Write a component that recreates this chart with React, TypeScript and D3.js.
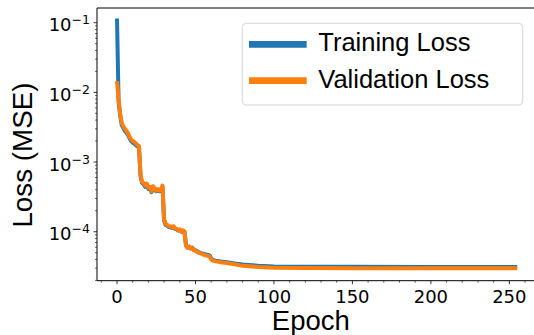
import { useEffect, useRef } from "react"
import * as d3 from "d3"

// epochs (dense where the curve moves, sparse on the plateau)
const epochs = [
  0, 1, 2, 3, 4, 5, 6, 7, 8, 9, 10, 11, 12, 13, 14, 15, 16, 17, 18, 19, 20, 21, 22, 23, 24, 25, 26, 27, 28, 29,
  30, 31, 32, 33, 34, 35, 36, 37, 38, 39, 40, 41, 42, 43, 44, 45, 46, 47, 48, 49, 50, 52, 54, 56, 58, 59, 60, 61,
  63, 66, 70, 75, 80, 90, 100, 120, 150, 200, 255,
]

const trainLoss = [
  1.15e-1, 7.4e-3, 4.7e-3, 3.4e-3, 3.1e-3, 2.8e-3, 2.65e-3, 2.45e-3, 2.2e-3, 2.0e-3, 1.9e-3, 1.85e-3, 1.75e-3, 1.68e-3,
  1.62e-3, 6.2e-4, 5.0e-4, 4.8e-4, 4.4e-4, 4.7e-4, 4.1e-4, 4.2e-4, 3.7e-4, 4.3e-4, 4.0e-4, 3.8e-4, 3.9e-4, 3.8e-4,
  3.9e-4, 4.4e-4, 1.45e-4, 1.25e-4, 1.22e-4, 1.17e-4, 1.17e-4, 1.13e-4, 1.16e-4, 1.1e-4, 1.08e-4, 1.04e-4, 1.06e-4,
  1.0e-4, 1.03e-4, 1.0e-4, 6.3e-5, 5.9e-5, 6.1e-5, 5.8e-5, 5.9e-5, 5.5e-5, 5.4e-5, 5.1e-5, 4.9e-5, 4.75e-5, 4.65e-5,
  4.55e-5, 4.15e-5, 3.95e-5, 3.85e-5, 3.75e-5, 3.65e-5, 3.5e-5, 3.38e-5, 3.25e-5, 3.18e-5, 3.15e-5, 3.13e-5, 3.12e-5,
  3.12e-5,
]

const valLoss = [
  1.45e-2, 7.9e-3, 5.0e-3, 3.6e-3, 3.3e-3, 3.0e-3, 2.8e-3, 2.6e-3, 2.3e-3, 2.1e-3, 2.0e-3, 1.95e-3, 1.85e-3, 1.75e-3,
  1.7e-3, 6.5e-4, 5.2e-4, 5.0e-4, 4.6e-4, 4.9e-4, 4.3e-4, 4.4e-4, 3.8e-4, 4.5e-4, 4.2e-4, 3.9e-4, 4.1e-4, 3.9e-4,
  4.0e-4, 4.6e-4, 1.5e-4, 1.3e-4, 1.25e-4, 1.2e-4, 1.2e-4, 1.15e-4, 1.2e-4, 1.12e-4, 1.1e-4, 1.05e-4, 1.08e-4,
  1.0e-4, 1.05e-4, 1.0e-4, 6.3e-5, 5.9e-5, 6.1e-5, 5.7e-5, 5.9e-5, 5.4e-5, 5.3e-5, 5.0e-5, 4.8e-5, 4.6e-5, 4.5e-5,
  4.4e-5, 4.0e-5, 3.85e-5, 3.75e-5, 3.65e-5, 3.55e-5, 3.4e-5, 3.25e-5, 3.12e-5, 3.05e-5, 3.02e-5, 3.0e-5, 3.0e-5,
  3.0e-5,
]

const xTicks = [0, 50, 100, 150, 200, 250]
const yTickExps = [-1, -2, -3, -4]
const seriesNames = ["Training Loss", "Validation Loss"]
const seriesColors = ["#1f77b4", "#ff7f0e"]

export default function App() {
  const svgRef = useRef<SVGSVGElement | null>(null)

  useEffect(() => {
    if (!svgRef.current) return
    const svg = d3.select(svgRef.current)
    svg.selectAll("*").remove()

    // axes box (right spine falls just outside the picture)
    const left = 97
    const top = 8
    const bottom = 280.7
    const right = 537.2

    const x = d3.scaleLinear().domain([-12.75, 267.75]).range([left, right])
    const y = d3.scaleLog().domain([Math.pow(10, -4.703), Math.pow(10, -0.789)]).range([bottom, top])

    const tickFont = "DejaVu Sans, sans-serif"
    const labelFont = "Liberation Sans, Arial, sans-serif"

    // lines
    const line = d3
      .line<number>()
      .x((d, i) => x(epochs[i]))
      .y((d) => y(d))

    ;[trainLoss, valLoss].forEach((vals, k) => {
      svg
        .append("path")
        .datum(vals)
        .attr("d", line)
        .attr("fill", "none")
        .attr("stroke", seriesColors[k])
        .attr("stroke-width", 4)
        .attr("stroke-linejoin", "round")
    })

    // spines
    const spines = svg.append("g").attr("stroke", "#000").attr("stroke-width", 1)
    spines.append("line").attr("x1", left).attr("x2", left).attr("y1", top).attr("y2", bottom)
    spines.append("line").attr("x1", left).attr("x2", right).attr("y1", bottom).attr("y2", bottom)
    spines.append("line").attr("x1", left).attr("x2", right).attr("y1", top).attr("y2", top)

    // x ticks
    const xMinor = d3.range(-10, 261, 10).filter((v) => v % 50 !== 0)
    svg
      .append("g")
      .selectAll("line")
      .data(xMinor)
      .enter()
      .append("line")
      .attr("x1", (d) => x(d))
      .attr("x2", (d) => x(d))
      .attr("y1", bottom)
      .attr("y2", bottom + 2)
      .attr("stroke", "#000")
      .attr("stroke-width", 0.6)
    svg
      .append("g")
      .selectAll("line")
      .data(xTicks)
      .enter()
      .append("line")
      .attr("x1", (d) => x(d))
      .attr("x2", (d) => x(d))
      .attr("y1", bottom)
      .attr("y2", bottom + 3.5)
      .attr("stroke", "#000")
      .attr("stroke-width", 0.8)
    svg
      .append("g")
      .selectAll("text")
      .data(xTicks)
      .enter()
      .append("text")
      .attr("x", (d) => x(d))
      .attr("y", 303)
      .attr("text-anchor", "middle")
      .attr("font-family", tickFont)
      .attr("font-size", 18)
      .attr("fill", "#000")
      .text((d) => d)

    // y ticks (log)
    const yMinor: number[] = []
    for (let e = -5; e <= -1; e++) {
      for (let m = 2; m <= 9; m++) {
        const v = m * Math.pow(10, e)
        if (y(v) >= top && y(v) <= bottom) yMinor.push(v)
      }
    }
    svg
      .append("g")
      .selectAll("line")
      .data(yMinor)
      .enter()
      .append("line")
      .attr("x1", left)
      .attr("x2", left - 2)
      .attr("y1", (d) => y(d))
      .attr("y2", (d) => y(d))
      .attr("stroke", "#000")
      .attr("stroke-width", 0.6)
    svg
      .append("g")
      .selectAll("line")
      .data(yTickExps)
      .enter()
      .append("line")
      .attr("x1", left)
      .attr("x2", left - 3.5)
      .attr("y1", (d) => y(Math.pow(10, d)))
      .attr("y2", (d) => y(Math.pow(10, d)))
      .attr("stroke", "#000")
      .attr("stroke-width", 0.8)
    const yLabels = svg
      .append("g")
      .selectAll("text")
      .data(yTickExps)
      .enter()
      .append("text")
      .attr("x", 90)
      .attr("y", (d) => y(Math.pow(10, d)) + 8.5)
      .attr("text-anchor", "end")
      .attr("font-family", tickFont)
      .attr("font-size", 18)
      .attr("fill", "#000")
    yLabels.append("tspan").text("10")
    yLabels
      .append("tspan")
      .attr("dy", -7)
      .attr("font-size", 12.5)
      .text((d) => `\u2212${-d}`)

    // axis labels
    svg
      .append("text")
      .attr("x", 310.8)
      .attr("y", 329.5)
      .attr("text-anchor", "middle")
      .attr("font-family", labelFont)
      .attr("font-size", 27.5)
      .attr("fill", "#000")
      .text("Epoch")
    svg
      .append("text")
      .attr("transform", "translate(31.5,155) rotate(-90)")
      .attr("text-anchor", "middle")
      .attr("font-family", labelFont)
      .attr("font-size", 27.8)
      .attr("fill", "#000")
      .text("Loss (MSE)")

    // legend
    const legend = svg.append("g")
    legend
      .append("rect")
      .attr("x", 242.3)
      .attr("y", 23.3)
      .attr("width", 280.4)
      .attr("height", 81.7)
      .attr("rx", 4)
      .attr("fill", "#fff")
      .attr("fill-opacity", 0.8)
      .attr("stroke", "#d6d6d6")
      .attr("stroke-width", 1)
    seriesNames.forEach((name, k) => {
      const cy = 44.3 + k * 36.4
      legend
        .append("line")
        .attr("x1", 249)
        .attr("x2", 306.7)
        .attr("y1", cy)
        .attr("y2", cy)
        .attr("stroke", seriesColors[k])
        .attr("stroke-width", 6.7)
      legend
        .append("text")
        .attr("x", 318.3)
        .attr("y", cy + 7)
        .attr("font-family", labelFont)
        .attr("font-size", 25.5)
        .attr("fill", "#000")
        .text(name)
    })
  }, [])

  return (
    <svg
      ref={svgRef}
      width={534}
      height={335}
      style={{ position: "absolute", left: 0, top: 0, background: "#fff" }}
    ></svg>
  )
}
